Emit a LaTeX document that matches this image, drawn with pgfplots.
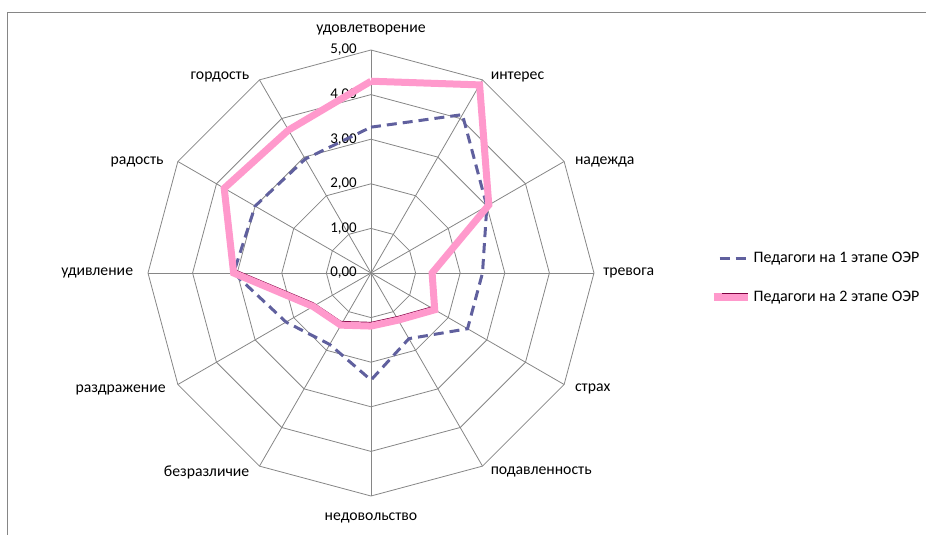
\documentclass[border=0pt]{standalone}
\usepackage{fontspec}
\setmainfont{Carlito}
\usepackage{pgfplots}
\pgfplotsset{compat=1.18}
\usepgfplotslibrary{polar}
\definecolor{gridc}{RGB}{134,134,134}
\definecolor{sA}{RGB}{96,96,158}
\definecolor{sB}{RGB}{255,153,204}
\definecolor{sBd}{RGB}{128,0,64}
\tikzset{cat/.style={inner sep=0pt, font=\fontsize{11.8}{14}\selectfont},
         val/.style={inner sep=0pt, font=\fontsize{11.2}{13}\selectfont}}
\begin{document}
\begin{tikzpicture}
\useasboundingbox (-278.25pt,-196.5pt) rectangle (416.25pt,204.75pt);
\draw[gridc, line width=0.75pt] (-272.25pt,-196.5pt) -- (-272.25pt,195pt) -- (416.25pt,195pt);
\begin{polaraxis}[
  at={(0pt,0pt)}, anchor=origin,
  scale only axis, width=334.5pt, height=334.5pt,
  ymin=0, ymax=5,
  hide axis, clip=false,
  legend style={draw=none, fill=none, at={(axis description cs:1.258,0.489)}, anchor=west,
    font=\fontsize{12}{14}\selectfont, row sep=15.5pt, inner sep=0pt,
    cells={anchor=west}, nodes={inner xsep=1.2pt}},
  legend image code/.code={\draw[#1] (0pt,0pt) -- (21pt,0pt);},
]
% grid
\pgfplotsinvokeforeach{1,2,3,4,5}{
  \addplot[gridc, line width=0.6pt, forget plot] coordinates {(0,#1) (30,#1) (60,#1) (90,#1) (120,#1) (150,#1) (180,#1) (210,#1) (240,#1) (270,#1) (300,#1) (330,#1) (360,#1)};
}
\pgfplotsinvokeforeach{0,30,...,330}{
  \draw[gridc, line width=0.6pt] (axis cs:0,0) -- (axis cs:#1,5);
}
% value labels
\pgfplotsinvokeforeach{0,1,2,3,4,5}{
  \node[val, anchor=east] at ([xshift=-10.5pt]axis cs:90,#1) {#1,00};
}
% category labels
\node[cat, anchor=center] at ([yshift=15pt]axis cs:90,5) {удовлетворение};
\node[cat, anchor=west] at ([xshift=6pt, yshift=2pt]axis cs:60,5) {интерес};
\node[cat, anchor=west] at ([xshift=8pt]axis cs:30,5) {надежда};
\node[cat, anchor=west] at ([xshift=6.75pt]axis cs:0,5) {тревога};
\node[cat, anchor=west] at ([xshift=8pt, yshift=-3pt]axis cs:-30,5) {страх};
\node[cat, anchor=west] at ([xshift=6pt, yshift=-4.5pt]axis cs:-60,5) {подавленность};
\node[cat, anchor=center] at ([yshift=-16.5pt]axis cs:-90,5) {недовольство};
\node[cat, anchor=east] at ([xshift=-7.5pt, yshift=-4.5pt]axis cs:-120,5) {безразличие};
\node[cat, anchor=east] at ([xshift=-9pt, yshift=-3.75pt]axis cs:-150,5) {раздражение};
\node[cat, anchor=east] at ([xshift=-11pt]axis cs:180,5) {удивление};
\node[cat, anchor=east] at ([xshift=-10.5pt]axis cs:150,5) {радость};
\node[cat, anchor=east] at ([xshift=-7.5pt, yshift=2.25pt]axis cs:120,5) {гордость};
% series 1
\addplot[sA, line width=2.25pt, dash pattern=on 7.5pt off 4.5pt] coordinates {
  (90,3.27) (60,4.10) (30,3.00) (0,2.50) (-30,2.50) (-60,1.70) (-90,2.40)
  (-120,1.85) (-150,2.20) (-180,3.08) (-210,3.00) (-240,2.95) (-270,3.27)};
\addlegendentry{Педагоги на 1 этапе ОЭР}
% series 2 dark edge
\addplot[sBd, line width=1.1pt, yshift=2.6pt, forget plot] coordinates {
  (-180,3.08) (-150,1.50) (-120,1.35) (-90,1.19) (-60,1.22) (-30,1.65)};
% series 2
\addplot[sB, line width=5.25pt,
  legend image code/.code={\draw[sB, line width=6.5pt] (-4.5pt,0pt) -- (21pt,0pt); \draw[sBd, line width=0.7pt] (2pt,2.8pt) -- (21pt,2.8pt);}]
  coordinates {
  (90,4.30) (60,4.87) (30,3.05) (0,1.37) (-30,1.65) (-60,1.22) (-90,1.19)
  (-120,1.35) (-150,1.50) (-180,3.08) (-210,3.80) (-240,3.70) (-270,4.30)};
\addlegendentry{Педагоги на 2 этапе ОЭР}
\end{polaraxis}
\end{tikzpicture}
\end{document}
